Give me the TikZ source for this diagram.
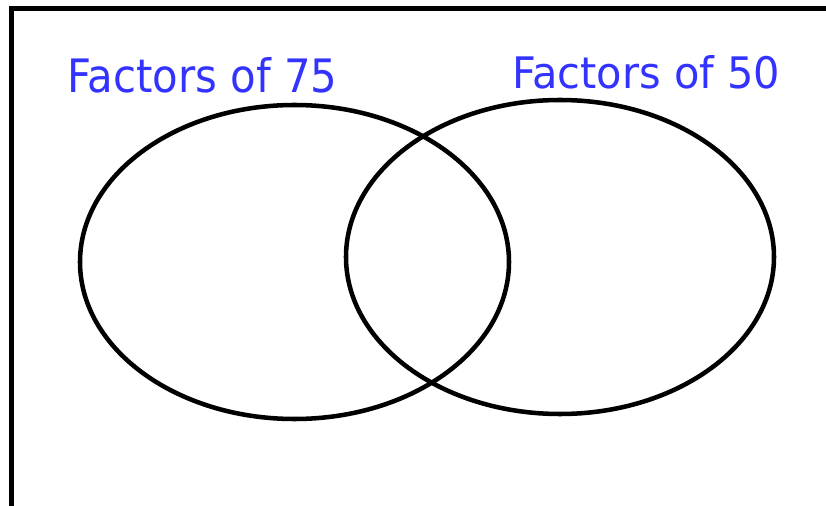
\documentclass[tikz,border=0pt]{standalone}
\usepackage{fontspec}
\setmainfont{DejaVu Sans}
\usetikzlibrary{shapes.geometric}
\definecolor{labelblue}{RGB}{51,51,255}
\tikzset{
  setcircle/.style={draw=black, line width=3.4pt, ellipse, inner sep=0pt},
  setlabel/.style={text=labelblue, inner sep=0pt, anchor=south west},
  frame/.style={draw=black, line width=3.8pt}
}
\begin{document}
\begin{tikzpicture}[x=0.75pt,y=-0.75pt]
\useasboundingbox (0,0) rectangle (826,506);
\clip (0,0) rectangle (826,506);
\fill[white] (0,0) rectangle (826,506);
\draw[frame] (11.5,8.5) rectangle (840,520);
\node[setcircle, minimum width=429*0.75pt, minimum height=314*0.75pt] (A) at (294.5,262) {};
\node[setcircle, minimum width=428*0.75pt, minimum height=314*0.75pt] (B) at (560,257) {};
\node[setlabel] (LA) at (67,93) {\resizebox{202.5pt}{26.25pt}{Factors of 75}};
\node[setlabel] (LB) at (512,89) {\resizebox{201pt}{24.75pt}{Factors of 50}};
\end{tikzpicture}
\end{document}
